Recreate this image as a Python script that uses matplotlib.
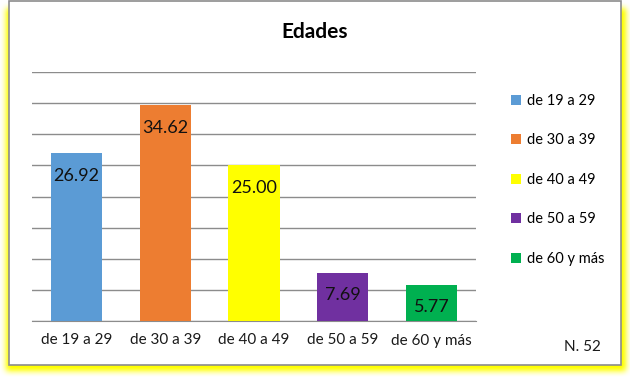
import numpy as np
import matplotlib
matplotlib.use("Agg")
import matplotlib.pyplot as plt
from matplotlib.patches import Rectangle

plt.rcParams["font.family"] = ["Lato", "DejaVu Sans"]

# data
categories = ["de 19 a 29", "de 30 a 39", "de 40 a 49", "de 50 a 59", "de 60 y más"]
values = [26.92, 34.62, 25.00, 7.69, 5.77]
colors = ["#5B9BD5", "#ED7D31", "#FFFF00", "#7030A0", "#00B050"]
title = "Edades"
note = "N. 52"

W, H = 630, 383
fig = plt.figure(figsize=(W / 100, H / 100), dpi=100, facecolor="white")

# background: yellow glow + framed white box
bg = fig.add_axes([0, 0, 1, 1], zorder=0)
bg.set_xlim(0, W)
bg.set_ylim(H, 0)
bg.axis("off")

mask = np.zeros((H, W))
mask[8:371, 6:626] = 1.0


def box_blur(a, r):
    k = np.ones(2 * r + 1) / (2 * r + 1)
    a = np.apply_along_axis(lambda m: np.convolve(m, k, mode="same"), 0, a)
    a = np.apply_along_axis(lambda m: np.convolve(m, k, mode="same"), 1, a)
    return a


glow = box_blur(box_blur(mask, 3), 3)
rgba = np.zeros((H, W, 4))
rgba[..., 0] = 1.0
rgba[..., 1] = 1.0
rgba[..., 2] = 0.0
rgba[..., 3] = np.clip(glow * 1.1, 0, 1)
bg.imshow(rgba, extent=(0, W, H, 0), interpolation="bilinear", aspect="auto")
bg.add_patch(Rectangle((9, 0.5), 612, 364, facecolor="white",
                       edgecolor="#8C8C8C", linewidth=1.2))

# main chart
ax = fig.add_axes([32 / W, 1 - 321 / H, 444 / W, 249 / H], zorder=2)
ax.set_facecolor("none")
x = np.arange(len(categories))
bars = ax.bar(x, values, width=0.575, color=colors, label=categories, zorder=3)

ax.set_xlim(-0.5, len(categories) - 0.5)
ax.set_ylim(0, 40)
ax.set_yticks(np.arange(0, 41, 5))
ax.yaxis.grid(True, color="#8C8C8C", linewidth=1.0)
ax.set_axisbelow(True)
ax.tick_params(axis="y", left=False, labelleft=False)
ax.tick_params(axis="x", length=0, pad=9, labelsize=11, colors="#1a1a1a")
ax.set_xticks(x)
ax.set_xticklabels(categories)
for s in ["top", "right", "left"]:
    ax.spines[s].set_visible(False)
ax.spines["bottom"].set_color("#8C8C8C")

for b, v in zip(bars, values):
    ax.annotate(f"{v:.2f}", (b.get_x() + b.get_width() / 2, v),
                xytext=(0, -16), textcoords="offset points",
                ha="center", va="center", fontsize=13, color="#111111", zorder=4)

fig.text(0.5, 1 - 32 / H, title, ha="center", va="center",
         fontsize=15, fontweight="bold", color="black")

fig.legend(handles=list(bars), labels=categories, loc="upper left",
           bbox_to_anchor=(505 / W, 1 - 88 / H), frameon=False,
           fontsize=10.5, handlelength=0.7, handleheight=0.7,
           handletextpad=0.4, labelspacing=1.75, borderaxespad=0)

fig.text(582 / W, 1 - 347 / H, note, ha="center", va="center",
         fontsize=11, color="#1a1a1a")

fig.savefig("out.png", dpi=100, facecolor="white")
